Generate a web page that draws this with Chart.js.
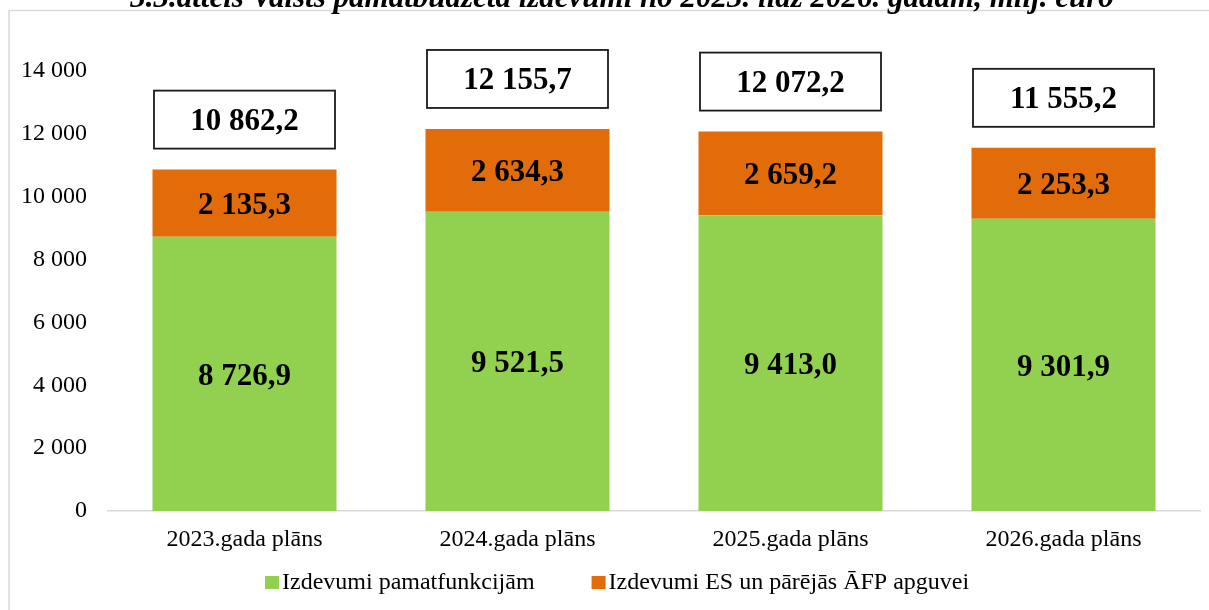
<!DOCTYPE html>
<html>
<head>
<meta charset="utf-8">
<script src="https://cdn.jsdelivr.net/npm/chart.js@4.4.0/dist/chart.umd.min.js"></script>
<style>
  html, body { margin: 0; padding: 0; background: #fff; overflow: hidden; }
  #wrap { width: 1209px; height: 610px; position: relative; }
</style>
</head>
<body>
<div id="wrap"><canvas id="grafiks"></canvas></div>
<script>
var virsraksts = '3.3.attēls Valsts pamatbudžeta izdevumi no 2023. līdz 2026. gadam, milj. euro';
var gadi = ['2023.gada plāns', '2024.gada plāns', '2025.gada plāns', '2026.gada plāns'];
var pamatfunkcijas = [8726.9, 9521.5, 9413.0, 9301.9];
var esAfp = [2135.3, 2634.3, 2659.2, 2253.3];
var kopa = [10862.2, 12155.7, 12072.2, 11555.2];
var asisTicks = [0, 2000, 4000, 6000, 8000, 10000, 12000, 14000];

var serif = '"Liberation Serif", "Times New Roman", serif';

function skaitlis(v, dec) {
  var s = v.toFixed(dec).split('.');
  var int = s[0].replace(/\B(?=(\d{3})+(?!\d))/g, ' ');
  return dec ? int + ',' + s[1] : int;
}

var zimejums = {
  id: 'zimejums',
  beforeDraw: function(chart) {
    var ctx = chart.ctx;
    ctx.save();
    ctx.strokeStyle = '#d9d9d9';
    ctx.lineWidth = 1.5;
    ctx.strokeRect(9, 10.5, 1220, 620);
    ctx.restore();
  },
  afterDatasetsDraw: function(chart) {
    var ctx = chart.ctx;
    ctx.save();
    ctx.font = 'bold 31px ' + serif;
    ctx.textAlign = 'center';
    ctx.textBaseline = 'middle';
    ctx.fillStyle = '#000';
    chart.data.datasets.forEach(function(ds, di) {
      chart.getDatasetMeta(di).data.forEach(function(bar, i) {
        var yc = (bar.y + bar.base) / 2;
        ctx.fillText(skaitlis(ds.data[i], 1), bar.x, yc + 3);
      });
    });
    // kopsummas rāmīšos
    var top = chart.getDatasetMeta(1).data;
    top.forEach(function(bar, i) {
      var w = bar.width - 3;
      var h = 58;
      var bottom = bar.y - 21;
      ctx.fillStyle = '#fff';
      ctx.fillRect(bar.x - w / 2, bottom - h, w, h);
      ctx.strokeStyle = '#1a1a1a';
      ctx.lineWidth = 1.8;
      ctx.strokeRect(bar.x - w / 2, bottom - h, w, h);
      ctx.fillStyle = '#000';
      ctx.fillText(skaitlis(kopa[i], 1), bar.x, bottom - h / 2 + 2);
    });
    ctx.restore();
  },
  afterDraw: function(chart) {
    var ctx = chart.ctx;
    ctx.save();
    // virsraksts (augšdaļa nogriezta)
    ctx.font = 'italic bold 31px ' + serif;
    ctx.textAlign = 'center';
    ctx.textBaseline = 'alphabetic';
    ctx.fillStyle = '#000';
    ctx.fillText(virsraksts, 622, 7);
    // leģenda
    ctx.font = '24px ' + serif;
    ctx.textBaseline = 'middle';
    ctx.textAlign = 'left';
    var x = 265;
    var y = 583;
    chart.data.datasets.forEach(function(ds) {
      ctx.fillStyle = ds.backgroundColor;
      ctx.fillRect(x, y - 7, 14, 13);
      ctx.fillStyle = '#000';
      ctx.fillText(ds.label, x + 17, y);
      x += 17 + ctx.measureText(ds.label).width + 57;
    });
    ctx.restore();
  }
};

var ctx = document.getElementById('grafiks');
new Chart(ctx, {
  type: 'bar',
  data: {
    labels: gadi,
    datasets: [
      {
        label: 'Izdevumi pamatfunkcijām',
        backgroundColor: '#92d050',
        data: pamatfunkcijas
      },
      {
        label: 'Izdevumi ES un pārējās ĀFP apguvei',
        backgroundColor: '#e36c0a',
        data: esAfp
      }
    ]
  },
  options: {
    responsive: true,
    maintainAspectRatio: false,
    animation: false,
    devicePixelRatio: 1,
    categoryPercentage: 1,
    barPercentage: 0.674,
    layout: { padding: { top: 71, left: 0, right: 9, bottom: 55 } },
    plugins: {
      legend: { display: false },
      tooltip: { enabled: false }
    },
    scales: {
      x: {
        stacked: true,
        grid: { display: false, drawTicks: false },
        border: { display: true, color: '#d9d9d9', width: 1.5 },
        ticks: { color: '#000', padding: 14, font: { family: serif, size: 24 } },
        afterFit: function(s) { s.height = 44; }
      },
      y: {
        stacked: true,
        min: 0,
        max: 14000,
        grid: { display: false, drawTicks: false },
        border: { display: false },
        afterBuildTicks: function(s) {
          s.ticks = asisTicks.map(function(v) { return { value: v }; });
        },
        ticks: {
          color: '#000',
          padding: 21,
          font: { family: serif, size: 24 },
          callback: function(v) { return skaitlis(v, 0); }
        },
        afterFit: function(s) { s.width = 108; }
      }
    }
  },
  plugins: [zimejums]
});
</script>
</body>
</html>
